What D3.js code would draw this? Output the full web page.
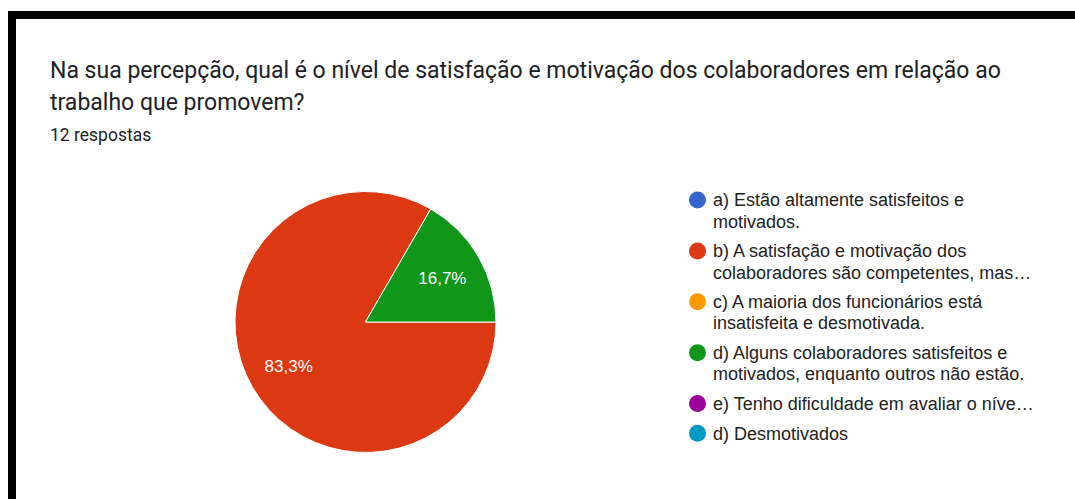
<!DOCTYPE html>
<html><head><meta charset="utf-8">
<script src="https://cdn.jsdelivr.net/npm/d3@7"></script>
<style>
html,body{margin:0;padding:0;background:#fff;}
svg{display:block;}
</style></head>
<body>
<svg id="chart" width="1075" height="499"></svg>
<script>
const title = ["Na sua percepção, qual é o nível de satisfação e motivação dos colaboradores em relação ao", "trabalho que promovem?"];
const subtitle = "12 respostas";
const categories = [
  ["a) Estão altamente satisfeitos e", "motivados."],
  ["b) A satisfação e motivação dos", "colaboradores são competentes, mas…"],
  ["c) A maioria dos funcionários está", "insatisfeita e desmotivada."],
  ["d) Alguns colaboradores satisfeitos e", "motivados, enquanto outros não estão."],
  ["e) Tenho dificuldade em avaliar o níve…"],
  ["d) Desmotivados"]
];
const values = [0, 10, 0, 2, 0, 0];
const colors = ["#3366cc", "#dc3912", "#ff9900", "#109618", "#990099", "#0099c6"];

const svg = d3.select("#chart");
// frame
svg.append("rect").attr("x", 8).attr("y", 11).attr("width", 1075 - 8).attr("height", 8).attr("fill", "#000");
svg.append("rect").attr("x", 8).attr("y", 11).attr("width", 8).attr("height", 499 - 11).attr("fill", "#000");

// title
svg.selectAll("text.title").data(title).enter().append("text")
  .attr("x", 50).attr("y", (d, i) => 78 + i * 32)
  .attr("font-family", "Roboto, sans-serif").attr("font-size", 23)
  .attr("fill", "#202124").text(d => d);
svg.append("text").attr("x", 50).attr("y", 141)
  .attr("font-family", "Roboto, sans-serif").attr("font-size", 17.5)
  .attr("fill", "#202124").text(subtitle);

// pie
const cx = 365.5, cy = 322, r = 130.5;
const total = d3.sum(values);
const pie = d3.pie().sort(null).value(d => d).startAngle(Math.PI / 2).endAngle(Math.PI / 2 + 2 * Math.PI);
const arcs = pie(values);
const arc = d3.arc().innerRadius(0).outerRadius(r);
const labelArc = d3.arc().innerRadius(r * 0.68).outerRadius(r * 0.68);
const g = svg.append("g").attr("transform", `translate(${cx},${cy})`);
g.selectAll("path").data(arcs.filter(d => d.data > 0)).enter().append("path")
  .attr("d", arc).attr("fill", d => colors[d.index])
  .attr("stroke", "#fff").attr("stroke-width", 1);
const fmt = v => (Math.round(v / total * 1000) / 10).toFixed(1).replace(".", ",") + "%";
g.selectAll("text").data(arcs.filter(d => d.data > 0)).enter().append("text")
  .attr("transform", d => `translate(${labelArc.centroid(d)})`)
  .attr("text-anchor", "middle").attr("dy", "0.36em")
  .attr("font-family", "Arial, 'Liberation Sans', sans-serif").attr("font-size", 17)
  .attr("fill", "#fff").text(d => fmt(d.data));

// legend
const lg = svg.append("g");
let y = 200;
categories.forEach((lines, i) => {
  lg.append("circle").attr("cx", 697.5).attr("cy", y).attr("r", 8.5).attr("fill", colors[i]);
  lines.forEach((t, j) => {
    lg.append("text").attr("x", 713).attr("y", y + j * 21.3 + 6.3)
      .attr("font-family", "Arial, 'Liberation Sans', sans-serif").attr("font-size", 18)
      .attr("fill", "#222").text(t);
  });
  y += lines.length * 21.3 + 8.3;
});
</script>
</body></html>
